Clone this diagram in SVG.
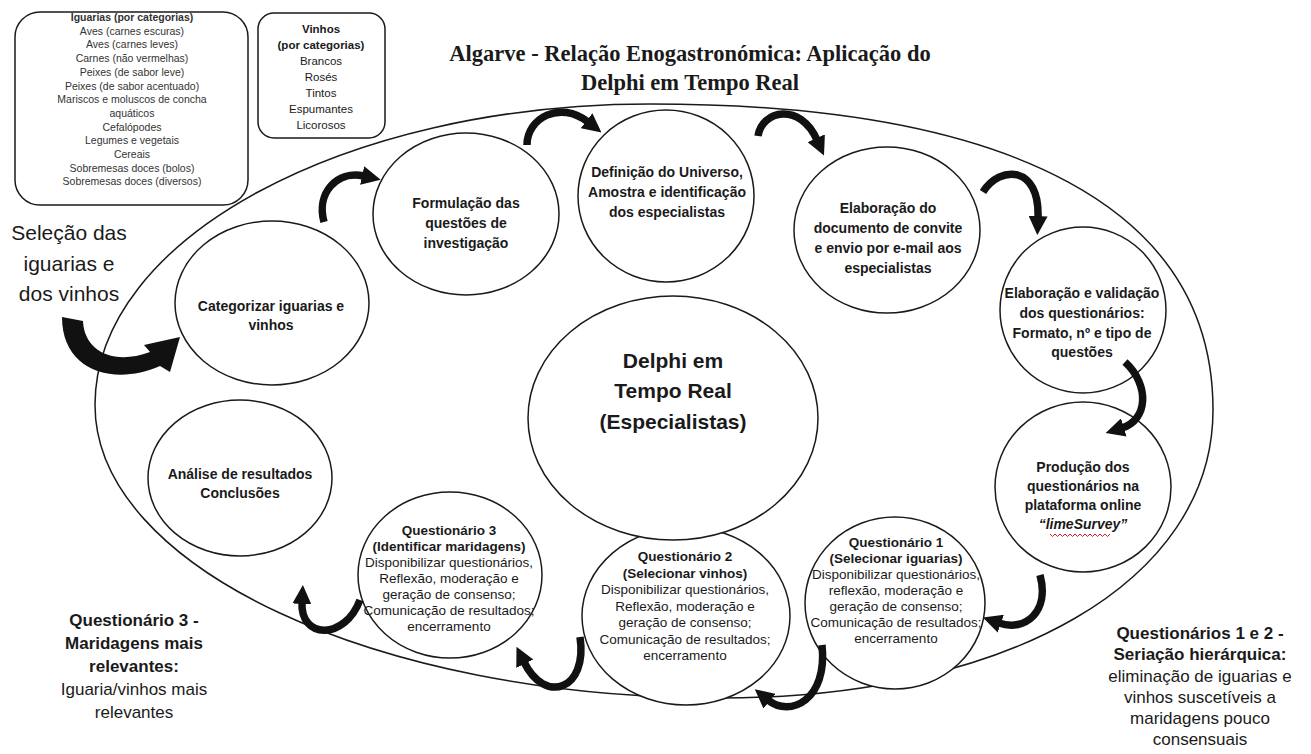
<svg xmlns="http://www.w3.org/2000/svg" width="1311" height="754" viewBox="0 0 1311 754">
<style>
.sh{fill:#fff;stroke:#1a1a1a;stroke-width:1.5}
.t{font-family:"Liberation Sans",Arial,sans-serif;fill:#1a1a1a;text-anchor:middle}
.b{font-weight:bold}
.c14{font-size:14px;font-weight:bold}
.q{font-size:13.5px}
.lst{font-size:10.5px;fill:#333}
.big{font-size:17px}
.ttl{font-family:"Liberation Serif","Times New Roman",serif;font-size:22.5px;font-weight:bold}
.arr{fill:none;stroke:#111;stroke-width:7.5;marker-end:url(#ah)}
</style>
<defs>
<marker id="ah" viewBox="0 0 10 10" refX="1" refY="5" markerWidth="19" markerHeight="19" markerUnits="userSpaceOnUse" orient="auto"><path d="M0,0 L10,5 L0,10 z" fill="#111"/></marker>
</defs>
<rect width="1311" height="754" fill="#fff"/>

<g id="outer-cycle">
<path d="M 95,405 C 95,239 343.5,104 650,104 C 1016,104 1213,211 1213,410 C 1213,582 1008,698 720,698 C 375,698 95,567 95,405 Z" fill="none" stroke="#1a1a1a" stroke-width="1.5"/>
</g>

<g id="title">
<text class="t ttl" x="690" y="61">Algarve - Relação Enogastronómica: Aplicação do</text>
<text class="t ttl" x="690" y="90">Delphi em Tempo Real</text>
</g>

<g id="iguarias-box">
<rect class="sh" x="15" y="12" width="233" height="193" rx="25"/>
<text class="t lst b" x="132" y="21">Iguarias (por categorias)</text>
<text class="t lst" x="132" y="34.7">Aves (carnes escuras)</text>
<text class="t lst" x="132" y="48.4">Aves (carnes leves)</text>
<text class="t lst" x="132" y="62.1">Carnes (não vermelhas)</text>
<text class="t lst" x="132" y="75.8">Peixes (de sabor leve)</text>
<text class="t lst" x="132" y="89.5">Peixes (de sabor acentuado)</text>
<text class="t lst" x="132" y="103.2">Mariscos e moluscos de concha</text>
<text class="t lst" x="132" y="116.9">aquáticos</text>
<text class="t lst" x="132" y="130.6">Cefalópodes</text>
<text class="t lst" x="132" y="144.3">Legumes e vegetais</text>
<text class="t lst" x="132" y="158">Cereais</text>
<text class="t lst" x="132" y="171.7">Sobremesas doces (bolos)</text>
<text class="t lst" x="132" y="185.4">Sobremesas doces (diversos)</text>
</g>

<g id="vinhos-box">
<rect class="sh" x="258" y="13" width="127" height="125" rx="16"/>
<text class="t b" x="321" y="33" style="font-size:11.5px">Vinhos</text>
<text class="t b" x="321" y="49" style="font-size:11.5px">(por categorias)</text>
<text class="t" x="321" y="65" style="font-size:11.5px">Brancos</text>
<text class="t" x="321" y="81" style="font-size:11.5px">Rosés</text>
<text class="t" x="321" y="97" style="font-size:11.5px">Tintos</text>
<text class="t" x="321" y="113" style="font-size:11.5px">Espumantes</text>
<text class="t" x="321" y="129" style="font-size:11.5px">Licorosos</text>
</g>

<g id="selecao-label">
<text class="t" x="69" y="240" style="font-size:21px">Seleção das</text>
<text class="t" x="69" y="271" style="font-size:21px">iguarias e</text>
<text class="t" x="69" y="301" style="font-size:21px">dos vinhos</text>
</g>

<g id="n-categorizar">
<ellipse class="sh" cx="272" cy="303" rx="97" ry="82"/>
<text class="t c14" x="271" y="311">Categorizar iguarias e</text>
<text class="t c14" x="271" y="330">vinhos</text>
</g>

<g id="n-formulacao">
<ellipse class="sh" cx="466" cy="214" rx="93" ry="81"/>
<text class="t c14" x="466" y="208">Formulação das</text>
<text class="t c14" x="466" y="228">questões de</text>
<text class="t c14" x="466" y="248">investigação</text>
</g>

<g id="n-definicao">
<ellipse class="sh" cx="666" cy="196" rx="88" ry="86"/>
<text class="t c14" x="667" y="177">Definição do Universo,</text>
<text class="t c14" x="667" y="197">Amostra e identificação</text>
<text class="t c14" x="667" y="217">dos especialistas</text>
</g>

<g id="n-convite">
<ellipse class="sh" cx="887" cy="230" rx="93" ry="83"/>
<text class="t c14" x="888" y="213">Elaboração do</text>
<text class="t c14" x="888" y="233">documento de convite</text>
<text class="t c14" x="888" y="253">e envio por e-mail aos</text>
<text class="t c14" x="888" y="273">especialistas</text>
</g>

<g id="n-validacao">
<ellipse class="sh" cx="1083" cy="310" rx="83" ry="83"/>
<text class="t c14" x="1082" y="298">Elaboração e validação</text>
<text class="t c14" x="1082" y="318">dos questionários:</text>
<text class="t c14" x="1082" y="338">Formato, nº e tipo de</text>
<text class="t c14" x="1082" y="357">questões</text>
</g>

<g id="n-producao">
<ellipse class="sh" cx="1083" cy="487" rx="88" ry="85"/>
<text class="t c14" x="1083" y="472">Produção dos</text>
<text class="t c14" x="1083" y="491">questionários na</text>
<text class="t c14" x="1083" y="510">plataforma online</text>
<text class="t c14" x="1083" y="529" style="font-style:italic">“limeSurvey”</text>
<path d="M1050,534 l2.5,2.5 l2.5,-2.5 l2.5,2.5 l2.5,-2.5 l2.5,2.5 l2.5,-2.5 l2.5,2.5 l2.5,-2.5 l2.5,2.5 l2.5,-2.5 l2.5,2.5 l2.5,-2.5 l2.5,2.5 l2.5,-2.5 l2.5,2.5 l2.5,-2.5 l2.5,2.5 l2.5,-2.5 l2.5,2.5 l2.5,-2.5 l2.5,2.5 l2.5,-2.5 l2.5,2.5 l2.5,-2.5" fill="none" stroke="#d02020" stroke-width="1"/>
</g>

<g id="n-q1">
<ellipse class="sh" cx="895" cy="603" rx="90" ry="86"/>
<text class="t q b" x="896" y="547">Questionário 1</text>
<text class="t q b" x="896" y="563">(Selecionar iguarias)</text>
<text class="t q" x="896" y="579">Disponibilizar questionários,</text>
<text class="t q" x="896" y="595">reflexão, moderação e</text>
<text class="t q" x="896" y="611">geração de consenso;</text>
<text class="t q" x="896" y="627">Comunicação de resultados;</text>
<text class="t q" x="896" y="643">encerramento</text>
</g>

<g id="n-q2">
<ellipse class="sh" cx="686" cy="616" rx="104" ry="89"/>
<text class="t q b" x="685" y="561">Questionário 2</text>
<text class="t q b" x="685" y="577.5">(Selecionar vinhos)</text>
<text class="t q" x="685" y="594">Disponibilizar questionários,</text>
<text class="t q" x="685" y="610.5">Reflexão, moderação e</text>
<text class="t q" x="685" y="627">geração de consenso;</text>
<text class="t q" x="685" y="643.5">Comunicação de resultados;</text>
<text class="t q" x="685" y="660">encerramento</text>
</g>

<g id="n-q3">
<ellipse class="sh" cx="450" cy="575" rx="92" ry="83"/>
<text class="t q b" x="449" y="535">Questionário 3</text>
<text class="t q b" x="449" y="551">(Identificar maridagens)</text>
<text class="t q" x="449" y="567">Disponibilizar questionários,</text>
<text class="t q" x="449" y="583">Reflexão, moderação e</text>
<text class="t q" x="449" y="599">geração de consenso;</text>
<text class="t q" x="449" y="615">Comunicação de resultados;</text>
<text class="t q" x="449" y="631">encerramento</text>
</g>

<g id="n-analise">
<ellipse class="sh" cx="240" cy="478" rx="92" ry="78"/>
<text class="t c14" x="240" y="479">Análise de resultados</text>
<text class="t c14" x="240" y="498">Conclusões</text>
</g>

<g id="n-delphi">
<ellipse class="sh" cx="673" cy="418" rx="145" ry="122"/>
<text class="t b" x="673" y="368" style="font-size:21px">Delphi em</text>
<text class="t b" x="673" y="398" style="font-size:21px">Tempo Real</text>
<text class="t b" x="673" y="429" style="font-size:21px">(Especialistas)</text>
</g>

<g id="note-q3">
<text class="t big b" x="134" y="626">Questionário 3 -</text>
<text class="t big b" x="134" y="649">Maridagens mais</text>
<text class="t big b" x="134" y="672">relevantes:</text>
<text class="t big" x="134" y="695">Iguaria/vinhos mais</text>
<text class="t big" x="134" y="718">relevantes</text>
</g>

<g id="note-q12">
<text class="t big b" x="1200" y="639">Questionários 1 e 2 -</text>
<text class="t big b" x="1200" y="660">Seriação hierárquica:</text>
<text class="t big" x="1200" y="682">eliminação de iguarias e</text>
<text class="t big" x="1200" y="703">vinhos suscetíveis a</text>
<text class="t big" x="1200" y="724">maridagens pouco</text>
<text class="t big" x="1200" y="745">consensuais</text>
</g>

<g id="connectors">
<path d="M 62,317 L 83,321 C 84,350 112,366 150,352 L 144,345 L 180,337 L 170,372 L 160,366 C 115,386 62,372 62,317 Z" fill="#111"/>
<path class="arr" d="M 324,222 C 316,193 337,170 364,176"/>
<path class="arr" d="M 527,145 C 527,118 560,100 588,122"/>
<path class="arr" d="M 758,136 C 762,110 800,102 817,140"/>
<path class="arr" d="M 983,192 C 1000,165 1040,165 1038,218"/>
<path class="arr" d="M 1125,362 C 1150,385 1148,420 1122,428"/>
<path class="arr" d="M 1040,575 C 1050,612 1025,632 999,623"/>
<path class="arr" d="M 822,645 C 828,700 790,718 768,700"/>
<path class="arr" d="M 580,637 C 588,690 545,705 524,662"/>
<path class="arr" d="M 360,600 C 345,640 300,640 302,602"/>
</g>
</svg>
